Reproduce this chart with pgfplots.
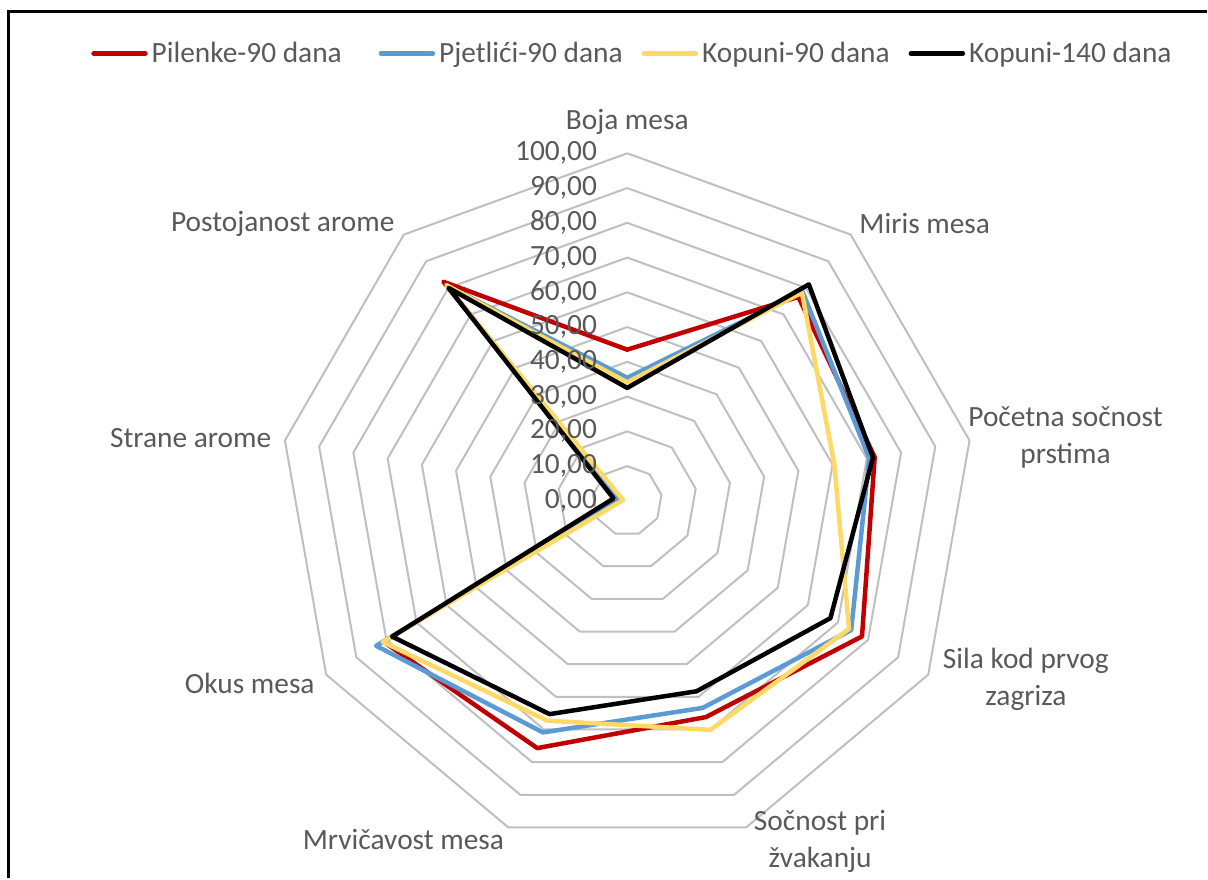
\documentclass[border=0pt]{standalone}
\usepackage{pgfplots}
\pgfplotsset{compat=1.18}
\usepackage{fontspec}
\setmainfont{Carlito}

\definecolor{cred}{RGB}{192,0,0}
\definecolor{cblue}{RGB}{91,155,213}
\definecolor{cyellow}{RGB}{255,217,102}
\definecolor{gridc}{RGB}{191,191,191}
\definecolor{txt}{RGB}{89,89,89}

\begin{document}
\begin{tikzpicture}[font=\fontsize{14.7}{18.5}\selectfont]
\begin{axis}[
    scale only axis,
    width=604pt, height=439.5pt,
    xmin=-180.46, xmax=166.67,
    ymin=-108.48, ymax=144.11,
    hide axis, clip=false,
    legend columns=4,
    legend cell align=left,
    legend style={at={(0.525,0.939)}, anchor=center, draw=none, fill=none,
        font=\fontsize{14.7}{18.5}\selectfont, text=txt,
        /tikz/every even column/.append style={column sep=7.5pt}},
    legend image code/.code={\draw[#1] (0pt,0pt) -- (26pt,0pt);},
    series/.style={line width=2.25pt, line join=round, line cap=round, data cs=polar},
]
\path (rel axis cs:0,0) rectangle (rel axis cs:1,1);
\draw[black, line width=1.5pt] (axis cs:-178,-108.48) -- (axis cs:-178,140.66) -- (axis cs:166.67,140.66);

% nonagon grid
\pgfplotsinvokeforeach{10,20,...,100}{
  \addplot[gridc, line width=1pt, line join=round, data cs=polar, forget plot]
    coordinates {(90,#1)(50,#1)(10,#1)(-30,#1)(-70,#1)(-110,#1)(-150,#1)(-190,#1)(-230,#1)(-270,#1)};
}

% Boja, Miris, Pocetna, Sila, Socnost, Mrvicavost, Okus, Strane, Postojanost
\addplot[cred, series] coordinates {(90,43.5)(50,76.6)(10,72.3)(-30,78.0)(-70,66.2)(-110,75.7)(-150,81.0)(-190,2.0)(-230,82.3)(-270,43.5)};
\addlegendentry{Pilenke-90 dana\hspace*{9pt}}
\addplot[cblue, series] coordinates {(90,35.4)(50,78.5)(10,70.7)(-30,74.4)(-70,63.4)(-110,70.9)(-150,83.4)(-190,2.0)(-230,81.0)(-270,35.4)};
\addlegendentry{Pjetlići-90 dana}
\addplot[cyellow, series] coordinates {(90,34.1)(50,78.2)(10,60.5)(-30,73.7)(-70,70.1)(-110,67.3)(-150,81.2)(-190,1.2)(-230,81.0)(-270,34.1)};
\addlegendentry{Kopuni-90 dana}
\addplot[black, series] coordinates {(90,32.5)(50,81.3)(10,71.8)(-30,67.5)(-70,58.3)(-110,65.3)(-150,78.1)(-190,4.0)(-230,80.0)(-270,32.5)};
\addlegendentry{Kopuni-140 dana}

% radial tick labels
\pgfplotsinvokeforeach{0,10,...,100}{
  \node[txt, anchor=east, inner sep=0pt] at (axis cs:-8.6,#1) {#1,00};
}

% category labels
\begin{scope}[txt, align=center]
\node at (axis cs:0,109.05) {Boja mesa};
\node at (axis cs:85.6,79.7) {Miris mesa};
\node at (axis cs:126.1,18.2) {Početna sočnost\\prstima};
\node at (axis cs:114.7,-51.3) {Sila kod prvog\\zagriza};
\node at (axis cs:55.5,-98.1) {Sočnost pri\\žvakanju};
\node at (axis cs:-64.4,-97.3) {Mrvičavost mesa};
\node at (axis cs:-108.6,-52.4) {Okus mesa};
\node at (axis cs:-125.6,18.2) {Strane arome};
\node at (axis cs:-99.1,79.7) {Postojanost arome};
\end{scope}
\end{axis}
\end{tikzpicture}
\end{document}
